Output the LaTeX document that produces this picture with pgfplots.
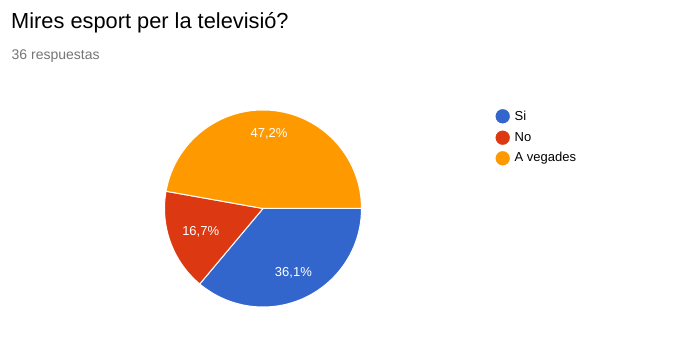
\documentclass[border=0pt]{standalone}
\usepackage{pgfplots}
\pgfplotsset{compat=1.18}
\usepackage{pgfplotstable}
\usepackage{fontspec}
\setmainfont{Liberation Sans}
\definecolor{siC}{HTML}{3366CC}
\definecolor{noC}{HTML}{DC3912}
\definecolor{avC}{HTML}{FF9900}
\definecolor{subC}{HTML}{757575}
\pgfplotstableread{
label pct
Si 36.1
No 16.7
Avegades 47.2
}\piedata
\begin{document}
\begin{tikzpicture}[x=1pt,y=1pt]
\pgfplotstablegetelem{0}{pct}\of\piedata \pgfmathsetmacro{\pa}{\pgfplotsretval}
\pgfplotstablegetelem{1}{pct}\of\piedata \pgfmathsetmacro{\pb}{\pgfplotsretval}
\pgfplotstablegetelem{2}{pct}\of\piedata \pgfmathsetmacro{\pc}{\pgfplotsretval}
\pgfmathsetmacro{\aA}{-3.6*\pa}
\pgfmathsetmacro{\aB}{\aA-3.6*\pb}
\pgfmathsetmacro{\aC}{\aB-3.6*\pc}
\pgfmathsetmacro{\cx}{263}
\pgfmathsetmacro{\cy}{150.5}
\pgfmathsetmacro{\R}{98.5}
\pgfmathsetmacro{\xA}{\cx+\R*cos(\aA)}\pgfmathsetmacro{\yA}{\cy+\R*sin(\aA)}
\pgfmathsetmacro{\xB}{\cx+\R*cos(\aB)}\pgfmathsetmacro{\yB}{\cy+\R*sin(\aB)}
\begin{axis}[at={(0,0)},anchor=south west,width=683pt,height=359pt,scale only axis,
  xmin=0,xmax=683,ymin=0,ymax=359,axis lines=none,clip=false]
\fill[siC,draw=white,line width=1pt] (axis cs:\cx,\cy) -- (axis cs:\cx+\R,\cy) arc[start angle=0,end angle=\aA,radius=\R pt] -- cycle;
\fill[noC,draw=white,line width=1pt] (axis cs:\cx,\cy) -- (axis cs:\xA,\yA) arc[start angle=\aA,end angle=\aB,radius=\R pt] -- cycle;
\fill[avC,draw=white,line width=1pt] (axis cs:\cx,\cy) -- (axis cs:\xB,\yB) arc[start angle=\aB,end angle=\aC,radius=\R pt] -- cycle;
\node[white,font=\fontsize{13}{15}\selectfont] at (axis cs:269,225.5) {47,2\%};
\node[white,font=\fontsize{13}{15}\selectfont] at (axis cs:200.7,127.3) {16,7\%};
\node[white,font=\fontsize{13}{15}\selectfont] at (axis cs:293.4,86) {36,1\%};
\addplot[only marks,mark=*,mark size=6.9pt,siC] coordinates {(502.7,242.7)};
\addplot[only marks,mark=*,mark size=6.9pt,noC] coordinates {(502.7,221.3)};
\addplot[only marks,mark=*,mark size=6.9pt,avC] coordinates {(502.7,200.7)};
\node[anchor=base west,font=\fontsize{13}{15}\selectfont,inner sep=0pt] at (axis cs:514.5,238) {Si};
\node[anchor=base west,font=\fontsize{13}{15}\selectfont,inner sep=0pt] at (axis cs:514.5,217.3) {No};
\node[anchor=base west,font=\fontsize{13}{15}\selectfont,inner sep=0pt] at (axis cs:514.5,197.3) {A vegades};
\node[anchor=base west,font=\fontsize{21.8}{25}\selectfont,inner sep=0pt] at (axis cs:11,330) {Mires esport per la televisió?};
\node[anchor=base west,font=\fontsize{14}{16}\selectfont,inner sep=0pt,text=subC] at (axis cs:11.5,299) {36 respuestas};
\end{axis}
\pgfresetboundingbox
\path[use as bounding box] (0,0) rectangle (683,359);
\end{tikzpicture}
\end{document}
